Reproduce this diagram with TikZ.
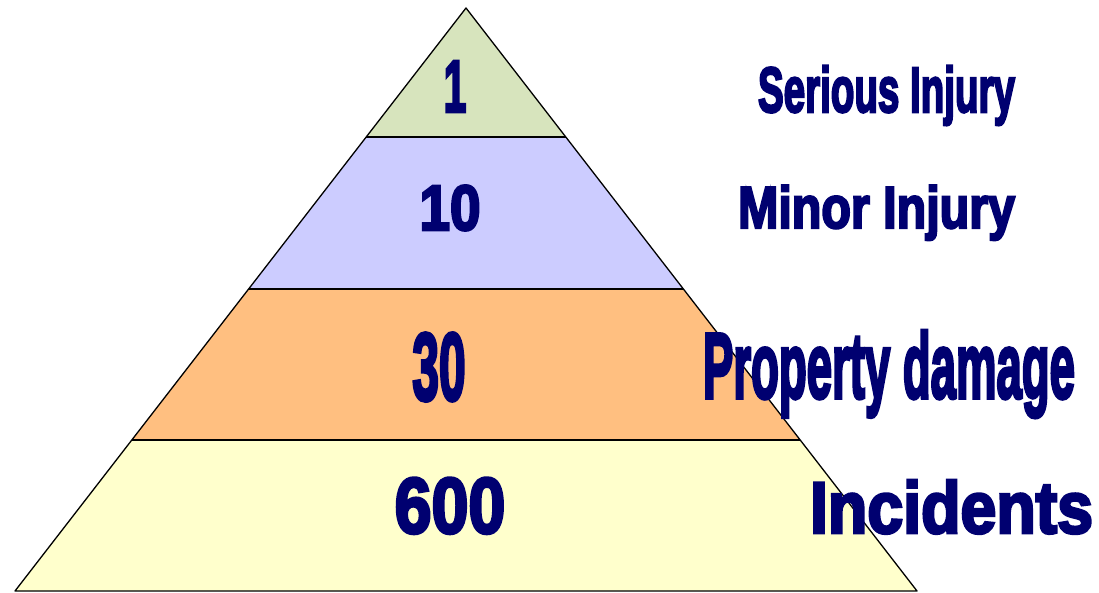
\documentclass[tikz,border=0pt]{standalone}
\usepackage{fontspec}
\newfontfamily\heavy[BoldFeatures={FakeBold=4}]{Liberation Sans}
\usetikzlibrary{calc}
\definecolor{ink}{RGB}{0,0,112}
\definecolor{bandA}{RGB}{215,228,189}
\definecolor{bandB}{RGB}{204,204,255}
\definecolor{bandC}{RGB}{255,191,128}
\definecolor{bandD}{RGB}{255,255,204}
\newcommand{\fitword}[3]{\resizebox{#1pt}{\height}{\fontsize{#2}{#2}\selectfont #3}}
\newcommand{\squeeze}[3]{\scalebox{#1}[1]{\fontsize{#2}{#2}\selectfont #3}}
\tikzset{
  band/.style={draw=black,line width=1.3pt,line join=round},
  lbl/.style={inner sep=0pt,outer sep=0pt,text=ink,font=\heavy\bfseries},
}
\begin{document}
\begin{tikzpicture}[x=1pt,y=-1pt]
\useasboundingbox (0,0) rectangle (1099,593);
\coordinate (apex) at (466,8);
\coordinate (bl) at (15,591);
\coordinate (br) at (917,591);
\coordinate (l1) at ($(apex)!0.2213!(bl)$);
\coordinate (r1) at ($(apex)!0.2213!(br)$);
\coordinate (l2) at ($(apex)!0.4820!(bl)$);
\coordinate (r2) at ($(apex)!0.4820!(br)$);
\coordinate (l3) at ($(apex)!0.7410!(bl)$);
\coordinate (r3) at ($(apex)!0.7410!(br)$);
\fill[bandA] (apex) -- (r1) -- (l1) -- cycle;
\fill[bandB] (l1) -- (r1) -- (r2) -- (l2) -- cycle;
\fill[bandC] (l2) -- (r2) -- (r3) -- (l3) -- cycle;
\fill[bandD] (l3) -- (r3) -- (br) -- (bl) -- cycle;
\draw[band] (l1) -- (r1);
\draw[band] (l2) -- (r2);
\draw[band] (l3) -- (r3);
\draw[band] (apex) -- (br) -- (bl) -- cycle;
% numbers
\node[lbl,anchor=base] (n1) at (455,112) {\squeeze{0.55}{74}{1}};
\node[lbl,anchor=base] (n10) at (450,230) {\squeeze{0.86}{64}{10}};
\node[lbl,anchor=base] (n30) at (439,400) {\squeeze{0.50}{96}{30}};
\node[lbl,anchor=base] (n600) at (450,533) {\squeeze{0.84}{79}{600}};
% labels
\node[lbl,anchor=base west] (t1) at (758,112) {\fitword{257}{64}{Serious Injury}};
\node[lbl,anchor=base west] (t2) at (738,228) {\fitword{277}{59}{Minor Injury}};
\node[lbl,anchor=base west] (t3) at (703,398) {\fitword{372}{93}{Property damage}};
\node[lbl,anchor=base west] (t4) at (810,533) {\fitword{283}{73}{Incidents}};
\end{tikzpicture}
\end{document}
